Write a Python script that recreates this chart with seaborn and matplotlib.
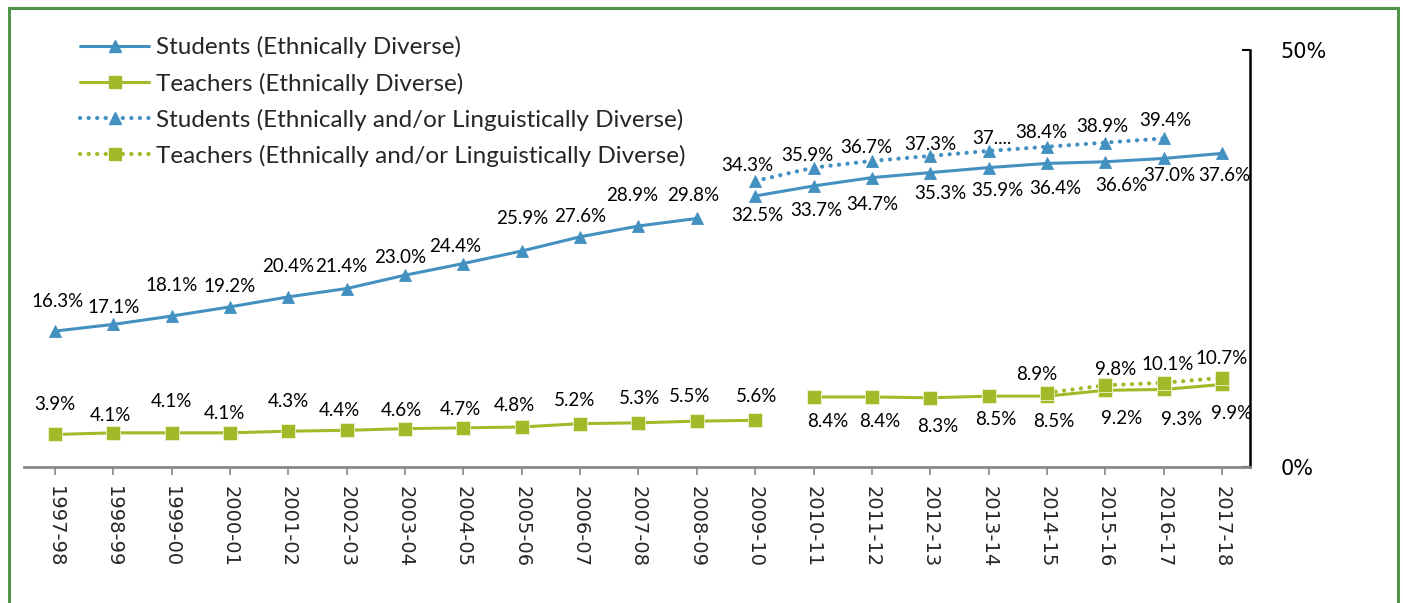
import numpy as np
import pandas as pd
import matplotlib
matplotlib.use("Agg")
import matplotlib.pyplot as plt
import seaborn as sns
from matplotlib.lines import Line2D
from matplotlib.patches import Rectangle

sns.set_style("white")
plt.rcParams['font.family'] = ['DejaVu Sans']

# ==========================================================
# data
# ==========================================================
years = ["1997-98", "1998-99", "1999-00", "2000-01", "2001-02", "2002-03",
         "2003-04", "2004-05", "2005-06", "2006-07", "2007-08", "2008-09",
         "2009-10", "2010-11", "2011-12", "2012-13", "2013-14", "2014-15",
         "2015-16", "2016-17", "2017-18"]

# Students (Ethnically Diverse): 1997-98..2008-09, then 2009-10..2017-18
students_eth_a = [16.3, 17.1, 18.1, 19.2, 20.4, 21.4, 23.0, 24.4, 25.9, 27.6, 28.9, 29.8]
students_eth_b = [32.5, 33.7, 34.7, 35.3, 35.9, 36.4, 36.6, 37.0, 37.6]
# Teachers (Ethnically Diverse): 1997-98..2009-10, then 2010-11..2017-18
teachers_eth_a = [3.9, 4.1, 4.1, 4.1, 4.3, 4.4, 4.6, 4.7, 4.8, 5.2, 5.3, 5.5, 5.6]
teachers_eth_b = [8.4, 8.4, 8.3, 8.5, 8.5, 9.2, 9.3, 9.9]
# Ethnically and/or Linguistically Diverse
students_eld = [34.3, 35.9, 36.7, 37.3, 37.9, 38.4, 38.9, 39.4]   # 2009-10..2016-17
teachers_eld = [8.9, 9.8, 10.1, 10.7]                             # 2014-15..2017-18

students_eld_text = ["34.3%", "35.9%", "36.7%", "37.3%", "37....", "38.4%", "38.9%", "39.4%"]

# label offsets (categories, percent points)
off_students_eth_a = [(0.05, -3.6), (0, -2.0), (0, -3.7), (0, -2.5), (0, -3.7), (-0.1, -2.7),
                      (-0.08, -2.1), (-0.14, -2.0), (0, -3.9), (0, -2.4), (-0.11, -3.6), (-0.06, -2.8)]
off_students_eth_b = [(0.04, 2.4), (0.05, 2.9), (0, 3.2), (0.17, 2.5), (0.15, 2.7), (0.14, 3.0),
                      (0.28, 2.8), (0.09, 2.1), (0.03, 2.6)]
off_students_eld = [(-0.13, -1.8), (-0.1, -1.5), (-0.1, -1.6), (0, -1.4), (0.05, -1.5),
                    (-0.09, -1.7), (-0.05, -1.9), (0.02, -2.2)]
off_teachers_eth_a = [(0, -3.6), (-0.04, -2.1), (0, -3.7), (-0.1, -2.3), (0, -3.6), (-0.12, -2.4),
                      (-0.07, -2.2), (-0.06, -2.2), (-0.12, -2.6), (-0.1, -2.8), (0.02, -2.9),
                      (-0.12, -2.9), (0.02, -2.9)]
off_teachers_eth_b = [(0.25, 3.0), (0.13, 3.0), (0.13, 3.4), (0.13, 2.8), (0.12, 3.0),
                      (0.28, 3.4), (0.3, 3.6), (0.17, 3.5)]
off_teachers_eld = [(-0.18, -2.2), (0.17, -1.9), (0.06, -2.2), (0, -2.3)]

BLUE = "#4391C0"
GREEN = "#A4B92A"
LABEL_FONT = "Lato"
DOTS = (0, (0.05, 2.0))


def segment(values, start_year):
    i0 = years.index(start_year)
    return pd.DataFrame({"x": np.arange(i0, i0 + len(values)), "y": values})


fig = plt.figure(figsize=(14.03, 6.03), dpi=100)
ax = fig.add_axes([0.0171, 0.2255, 0.8739, 0.6916])

series = [
    (segment(students_eth_a, "1997-98"), BLUE, "^", "-", 8.5, off_students_eth_a, None),
    (segment(students_eth_b, "2009-10"), BLUE, "^", "-", 8.5, off_students_eth_b, None),
    (segment(students_eld, "2009-10"), BLUE, "^", DOTS, 8.5, off_students_eld, students_eld_text),
    (segment(teachers_eth_a, "1997-98"), GREEN, "s", "-", 9.5, off_teachers_eth_a, None),
    (segment(teachers_eth_b, "2010-11"), GREEN, "s", "-", 9.5, off_teachers_eth_b, None),
    (segment(teachers_eld, "2014-15"), GREEN, "s", DOTS, 9.5, off_teachers_eld, None),
]

for df, col, mk, ls, ms, offs, texts in series:
    lw = 3.0 if ls == DOTS else 2.2
    sns.lineplot(data=df, x="x", y="y", ax=ax, color=col, marker=mk, markersize=ms,
                 markeredgecolor="#eef3d0" if mk == "s" else col, markeredgewidth=0.6,
                 linewidth=lw, linestyle=ls, dash_capstyle="round", legend=False)
    for k, (xv, yv) in enumerate(zip(df["x"], df["y"])):
        t = texts[k] if texts else f"{yv:.1f}%"
        dx, dy = offs[k]
        ax.text(xv + dx, yv - dy, t, ha="center", va="center",
                fontsize=13.5, family=LABEL_FONT, color="black")

ax.set_xlim(-0.53, 20.48)
ax.set_ylim(0, 50)
ax.set_xticks(range(len(years)))
ax.set_xticklabels(years, rotation=-90, fontsize=14, family="DejaVu Sans")
ax.set_xlabel("")
ax.set_ylabel("")

ax.yaxis.tick_right()
ax.set_yticks([0, 50])
ax.set_yticklabels(["0%", "50%"], fontsize=15)
ax.tick_params(axis="y", direction="in", length=6, width=1.5, pad=22, colors="black",
               right=True, left=False)
ax.tick_params(axis="x", direction="out", length=6, width=1.2, color="#888888", pad=8,
               bottom=True)

for s in ["top", "left"]:
    ax.spines[s].set_visible(False)
ax.spines["right"].set_color("black")
ax.spines["right"].set_linewidth(1.8)
ax.spines["bottom"].set_color("#888888")
ax.spines["bottom"].set_linewidth(2)

handles = [
    Line2D([], [], color=BLUE, marker="^", markersize=8, linewidth=2.2),
    Line2D([], [], color=GREEN, marker="s", markersize=9, linewidth=2.2),
    Line2D([], [], color=BLUE, marker="^", markersize=8, linewidth=3.0, linestyle=DOTS,
           dash_capstyle="round"),
    Line2D([], [], color=GREEN, marker="s", markersize=9, linewidth=3.0, linestyle=DOTS,
           dash_capstyle="round"),
]
names = ["Students (Ethnically Diverse)",
         "Teachers (Ethnically Diverse)",
         "Students (Ethnically and/or Linguistically Diverse)",
         "Teachers (Ethnically and/or Linguistically Diverse)"]
fig.legend(handles, names, loc="upper left", bbox_to_anchor=(0.0485, 0.96),
           frameon=False, prop={"family": LABEL_FONT, "size": 17.5},
           handlelength=2.85, handletextpad=0.28, labelspacing=0.58, borderpad=0)

# green frame around the chart
fig.patches.append(Rectangle((0.0064, -0.02), 0.9900, 1.0069, transform=fig.transFigure,
                             fill=False, edgecolor="#4E944B", linewidth=2.2))

fig.savefig("out.png", dpi=100)
